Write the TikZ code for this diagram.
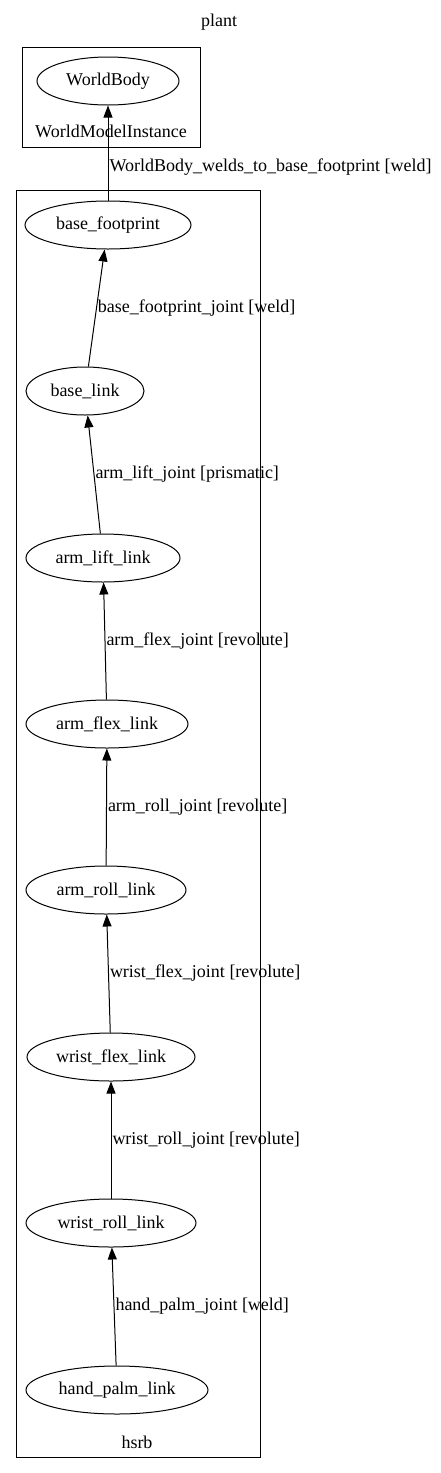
\documentclass[tikz,border=0pt]{standalone}
\usepackage{fontspec}
\setmainfont{Liberation Serif}
\usetikzlibrary{arrows.meta,shapes.geometric}
\begin{document}
\begin{tikzpicture}[x=1pt,y=-1pt,
  every node/.style={font=\fontsize{18}{21}\selectfont},
  link/.style={draw, ellipse, line width=1pt, inner sep=0pt, minimum height=48pt},
  cluster/.style={draw, line width=1pt, inner sep=0pt},
  edge/.style={line width=1pt, -{Triangle[length=12pt,width=9pt]}},
  elabel/.style={anchor=west, inner sep=1pt}]
\useasboundingbox (0,0) rectangle (440,1473);
\node (title) at (219,22) {plant};
\node[cluster, minimum width=178pt, minimum height=100pt] (wmi) at (111,97) {};
\node[cluster, minimum width=244pt, minimum height=1267pt] (hsrb) at (138,823.5) {};
\node (wmilabel) at (111,131) {WorldModelInstance};
\node (hsrblabel) at (137,1442) {hsrb};
\node[link, minimum width=142pt] (wb) at (108,81) {WorldBody};
\node[link, minimum width=166pt] (bf) at (108,225) {base\_footprint};
\node[link, minimum width=118pt] (bl) at (85,391) {base\_link};
\node[link, minimum width=154pt] (all) at (103,558) {arm\_lift\_link};
\node[link, minimum width=162pt] (afl) at (107,724) {arm\_flex\_link};
\node[link, minimum width=160pt] (arl) at (106,890) {arm\_roll\_link};
\node[link, minimum width=168pt] (wfl) at (111,1057) {wrist\_flex\_link};
\node[link, minimum width=170pt] (wrl) at (111,1223) {wrist\_roll\_link};
\node[link, minimum width=182pt] (hpl) at (117,1390) {hand\_palm\_link};
\draw[edge] (bf) -- node[elabel, pos=0.35] {WorldBody\_welds\_to\_base\_footprint [weld]} (wb);
\draw[edge] (bl) -- node[elabel, midway] {base\_footprint\_joint [weld]} (bf);
\draw[edge] (all) -- node[elabel, midway] {arm\_lift\_joint [prismatic]} (bl);
\draw[edge] (afl) -- node[elabel, midway] {arm\_flex\_joint [revolute]} (all);
\draw[edge] (arl) -- node[elabel, midway] {arm\_roll\_joint [revolute]} (afl);
\draw[edge] (wfl) -- node[elabel, midway] {wrist\_flex\_joint [revolute]} (arl);
\draw[edge] (wrl) -- node[elabel, midway] {wrist\_roll\_joint [revolute]} (wfl);
\draw[edge] (hpl) -- node[elabel, midway] {hand\_palm\_joint [weld]} (wrl);
\end{tikzpicture}
\end{document}
